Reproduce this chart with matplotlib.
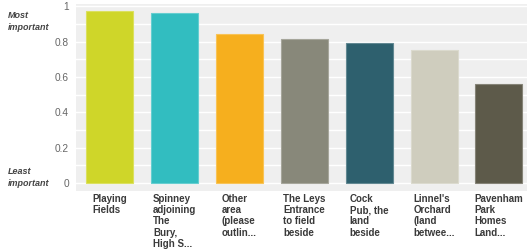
import numpy as np
import matplotlib
matplotlib.use("Agg")
import matplotlib.pyplot as plt
from matplotlib.colors import to_rgb

labels = [
    "Playing\nFields",
    "Spinney\nadjoining\nThe\nBury,\nHigh S...",
    "Other\narea\n(please\noutlin...",
    "The Leys\nEntrance\nto field\nbeside",
    "Cock\nPub, the\nland\nbeside",
    "Linnel's\nOrchard\n(land\nbetwee...",
    "Pavenham\nPark\nHomes\nLand...",
]
values = [0.972, 0.960, 0.842, 0.812, 0.791, 0.751, 0.559]
colors = ["#cfd629", "#32bdc0", "#f6af1e", "#88887a", "#2e606e", "#cfcdbe", "#5d5a4a"]
ytick_vals = [0, 0.2, 0.4, 0.6, 0.8, 1]
ytick_labels = ["0", "0.2", "0.4", "0.6", "0.8", "1"]

plt.rcParams["font.family"] = ["Liberation Sans", "DejaVu Sans"]

fig = plt.figure(figsize=(5.27, 2.5), dpi=100)
ax = fig.add_axes([76 / 527, 59 / 250, 451 / 527, 187 / 250])
ax.set_facecolor("#efefef")

x = np.arange(len(values))
edges = [tuple(0.75 * np.array(to_rgb(c)) + 0.25) for c in colors]
ax.bar(x, values, width=0.725, color=colors, edgecolor=edges, linewidth=0.8, zorder=3)

ax.set_xlim(-0.52, 6.433)
ax.set_ylim(-0.045, 1.012)
ax.set_yticks(ytick_vals)
ax.set_yticklabels(ytick_labels)
ax.set_yticks(np.arange(0, 1.01, 0.1), minor=True)
ax.grid(True, which="both", axis="y", color="white", linewidth=1.0, zorder=0)
ax.tick_params(axis="y", which="both", length=0, pad=5, labelsize=7.3, labelcolor="#666666")
ax.set_xticks([])
for s in ax.spines.values():
    s.set_visible(False)

# category labels: block centred under the bar, lines left aligned
for xi, lab in zip(x, labels):
    ax.annotate(lab, xy=(xi, 0), xycoords=("data", "axes fraction"),
                xytext=(0, -2), textcoords="offset points",
                ha="center", va="top", multialignment="left",
                fontsize=7, fontweight="bold", color="#3a3a3a", linespacing=1.16)

fig.text(8 / 527, 1 - 11 / 250, "Most\nimportant", ha="left", va="top",
         fontsize=6.5, style="italic", fontweight="bold", color="#444444", linespacing=1.5)
fig.text(8 / 527, 1 - 167 / 250, "Least\nimportant", ha="left", va="top",
         fontsize=6.5, style="italic", fontweight="bold", color="#444444", linespacing=1.5)

fig.savefig("out.png", dpi=100)
